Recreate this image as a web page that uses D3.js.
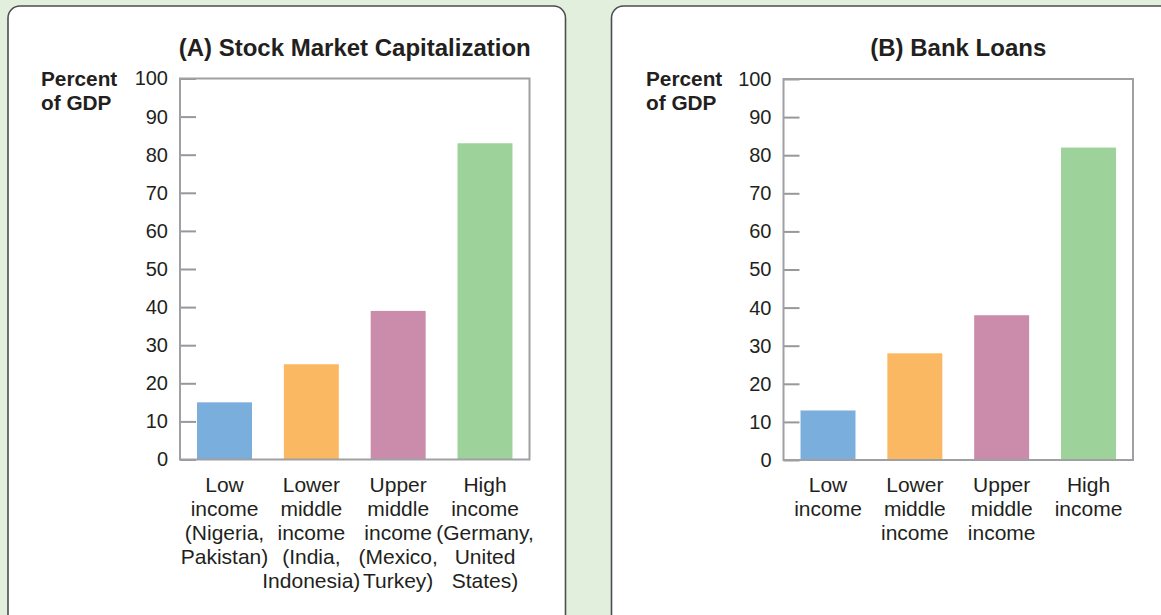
<!DOCTYPE html>
<html>
<head>
<meta charset="utf-8">
<script src="https://cdn.jsdelivr.net/npm/d3@7"></script>
<style>
  html, body { margin: 0; padding: 0; background: #e2efdd; }
  svg { display: block; }
  text { font-family: "Liberation Sans", Arial, Helvetica, sans-serif; fill: #231f20; }
</style>
</head>
<body>
<svg id="chart" width="1161" height="615"></svg>
<script>
// ---- data ----
const categoriesA = [
  ["Low", "income", "(Nigeria,", "Pakistan)"],
  ["Lower", "middle", "income", "(India,", "Indonesia)"],
  ["Upper", "middle", "income", "(Mexico,", "Turkey)"],
  ["High", "income", "(Germany,", "United", "States)"]
];
const categoriesB = [
  ["Low", "income"],
  ["Lower", "middle", "income"],
  ["Upper", "middle", "income"],
  ["High", "income"]
];
const stockMarketCap = [15, 25, 39, 83];
const bankLoans = [13, 28, 38, 82];
const barColors = ["#7aaedc", "#fbb862", "#cb8baa", "#9dd29b"];
const yTicks = [0, 10, 20, 30, 40, 50, 60, 70, 80, 90, 100];
const titles = ["(A) Stock Market Capitalization", "(B) Bank Loans"];
const yLabel = ["Percent", "of GDP"];

const svg = d3.select("#chart");

// panel backgrounds
svg.append("rect").attr("x", 8).attr("y", 6).attr("width", 557.5).attr("height", 630)
  .attr("rx", 12).attr("fill", "#fff").attr("stroke", "#4d4d4f").attr("stroke-width", 1.6);
svg.append("rect").attr("x", 611.5).attr("y", 6).attr("width", 600).attr("height", 630)
  .attr("rx", 12).attr("fill", "#fff").attr("stroke", "#4d4d4f").attr("stroke-width", 1.6);

function panel(cfg) {
  const g = svg.append("g");
  const x = d3.scaleBand().domain(d3.range(cfg.values.length))
    .range([cfg.x0, cfg.x1]).paddingInner(0.367).paddingOuter(0.196);
  const y = d3.scaleLinear().domain([0, 100]).range([cfg.yBottom, cfg.yTop]);

  // bars
  g.selectAll("rect.bar").data(cfg.values).join("rect")
    .attr("class", "bar")
    .attr("x", (d, i) => x(i))
    .attr("width", x.bandwidth())
    .attr("y", d => y(d))
    .attr("height", d => y(0) - y(d))
    .attr("fill", (d, i) => barColors[i]);

  // axis with inward ticks
  const ax = g.append("g").attr("transform", `translate(${cfg.x0},0)`)
    .call(d3.axisLeft(y).tickValues(yTicks).tickSizeInner(-16).tickSizeOuter(0).tickPadding(12));
  ax.select(".domain").remove();
  ax.selectAll(".tick line").attr("stroke", "#98989c").attr("stroke-width", 2);
  ax.selectAll(".tick text").attr("font-size", 20).attr("fill", "#231f20")
    .style("font-family", '"Liberation Sans", Arial, sans-serif');

  // frame
  g.append("rect").attr("x", cfg.x0).attr("y", y(100))
    .attr("width", cfg.x1 - cfg.x0).attr("height", y(0) - y(100))
    .attr("fill", "none").attr("stroke", "#a0a0a4").attr("stroke-width", 2);

  // title
  g.append("text").attr("x", (cfg.x0 + cfg.x1) / 2).attr("y", 56)
    .attr("text-anchor", "middle").attr("font-size", 24).attr("font-weight", "bold")
    .text(cfg.title);

  // y label
  g.append("text").attr("x", cfg.labelX).attr("y", 86).attr("font-size", 20.8)
    .attr("font-weight", "bold")
    .selectAll("tspan").data(yLabel).join("tspan")
    .attr("x", cfg.labelX).attr("dy", (d, i) => i === 0 ? 0 : 24).text(d => d);

  // category labels
  cfg.cats.forEach((lines, i) => {
    g.append("text").attr("text-anchor", "middle").attr("font-size", 21)
      .attr("y", 492)
      .selectAll("tspan").data(lines).join("tspan")
      .attr("x", x(i) + x.bandwidth() / 2)
      .attr("dy", (d, k) => k === 0 ? 0 : 24)
      .text(d => d);
  });
}

panel({ values: stockMarketCap, cats: categoriesA, title: titles[0],
        x0: 180, x1: 529.5, yTop: 78.5, yBottom: 459.5, labelX: 41 });
panel({ values: bankLoans, cats: categoriesB, title: titles[1],
        x0: 783.5, x1: 1133, yTop: 79, yBottom: 460, labelX: 646 });
</script>
</body>
</html>
